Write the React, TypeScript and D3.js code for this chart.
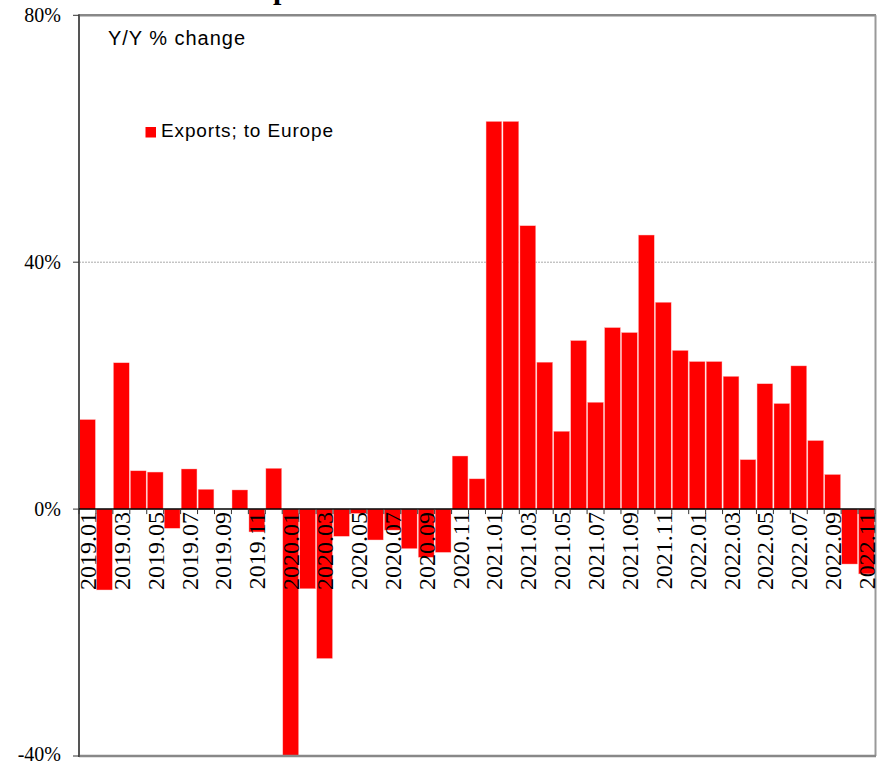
import React from "react";
import * as d3 from "d3";

const months: string[] = [
  "2019.01","2019.02","2019.03","2019.04","2019.05","2019.06","2019.07","2019.08","2019.09","2019.10","2019.11","2019.12",
  "2020.01","2020.02","2020.03","2020.04","2020.05","2020.06","2020.07","2020.08","2020.09","2020.10","2020.11","2020.12",
  "2021.01","2021.02","2021.03","2021.04","2021.05","2021.06","2021.07","2021.08","2021.09","2021.10","2021.11","2021.12",
  "2022.01","2022.02","2022.03","2022.04","2022.05","2022.06","2022.07","2022.08","2022.09","2022.10","2022.11",
];

const exportsToEurope: number[] = [
  14.5, -13.1, 23.7, 6.2, 6.0, -3.1, 6.5, 3.2, 0.0, 3.1, -3.7, 6.6,
  -40.0, -12.9, -24.2, -4.4, -0.7, -5.0, -3.4, -6.4, -7.8, -7.0, 8.6, 4.9,
  62.8, 62.8, 45.9, 23.8, 12.6, 27.3, 17.3, 29.4, 28.6, 44.4, 33.5, 25.7,
  23.9, 23.9, 21.5, 8.0, 20.3, 17.1, 23.2, 11.1, 5.6, -8.9, -10.5,
];

const yTicks: number[] = [-40, 0, 40, 80];
const seriesName = "Exports; to Europe";
const unitLabel = "Y/Y % change";

export default function App() {
  const W = 881, H = 765;
  const left = 79, right = 875, top = 15.3, bottom = 756;

  const x = d3.scaleBand<string>().domain(months).range([left, right]).paddingInner(0).paddingOuter(0);
  const y = d3.scaleLinear().domain([-40, 80]).range([bottom, top]);
  const bw = x.bandwidth();
  const y0 = y(0);

  const serif = "'Liberation Serif', 'Times New Roman', serif";
  const sans = "'Liberation Sans', Arial, sans-serif";

  return (
    <svg width={W} height={H} style={{ position: "absolute", left: 0, top: 0, background: "#fff" }}>
      {/* cut-off title */}
      <text x={238} y={-1} fontFamily={serif} fontWeight="bold" fontSize={30} fill="#000">Exports</text>

      {/* 40% gridline */}
      {yTicks.filter(t => t !== 0 && t !== 80 && t !== -40).map(t => (
        <line key={"g" + t} x1={left} x2={right} y1={y(t)} y2={y(t)} stroke="#aaa" strokeWidth={1} strokeDasharray="2,1" />
      ))}

      {/* bars */}
      {exportsToEurope.map((v, i) => {
        const m = months[i];
        const vy = y(Math.max(-40, v));
        const y1 = Math.min(vy, y0), y2 = Math.max(vy, y0);
        return (
          <rect key={m} x={(x(m) as number) + 0.6} width={bw - 1.2} y={y1} height={Math.max(0, y2 - y1)}
            fill="#ff0000" stroke="#ffb0b0" strokeWidth={0.4} />
        );
      })}

      {/* frame */}
      <line x1={left} x2={right + 1} y1={top} y2={top} stroke="#888" strokeWidth={2.5} />
      <line x1={right + 0.5} x2={right + 0.5} y1={top} y2={bottom} stroke="#999" strokeWidth={2} />
      <line x1={left} x2={right + 1} y1={bottom} y2={bottom} stroke="#888" strokeWidth={2.5} />
      <line x1={left} x2={left} y1={top - 1} y2={bottom + 1} stroke="#555" strokeWidth={2} />

      {/* zero line and x ticks */}
      <line x1={left} x2={right} y1={y0} y2={y0} stroke="#000" strokeWidth={1.5} />
      {months.map((m) => (
        <line key={"t" + m} x1={(x(m) as number)} x2={(x(m) as number)} y1={y0} y2={y0 + 5} stroke="#333" strokeWidth={1} />
      ))}
      <line x1={right} x2={right} y1={y0} y2={y0 + 5} stroke="#333" strokeWidth={1} />

      {/* x labels */}
      {months.map((m, i) => i % 2 === 0 ? (
        <text key={"l" + m} transform={`translate(${(x(m) as number) + bw / 2 + 8.5},${y0 + 3}) rotate(-90)`}
          textAnchor="end" fontFamily={serif} fontSize={24} fill="#000">{m}</text>
      ) : null)}

      {/* y axis ticks & labels */}
      {yTicks.map(t => (
        <g key={"y" + t}>
          <line x1={left - 6} x2={left} y1={y(t)} y2={y(t)} stroke="#333" strokeWidth={1} />
          <text x={61} y={t === -40 ? y(t) - 2 : y(t)} dy="0.35em" textAnchor="end" fontFamily={serif} fontSize={20} fill="#000">{t + "%"}</text>
        </g>
      ))}

      {/* unit label */}
      <text x={108} y={45} fontFamily={sans} fontSize={20} fill="#000" textLength={137} lengthAdjust="spacing">{unitLabel}</text>

      {/* legend */}
      <rect x={145.5} y={127} width={10.5} height={10.5} fill="#ff0000" />
      <text x={161} y={137} fontFamily={sans} fontSize={19} fill="#000" textLength={172} lengthAdjust="spacing">{seriesName}</text>
    </svg>
  );
}
